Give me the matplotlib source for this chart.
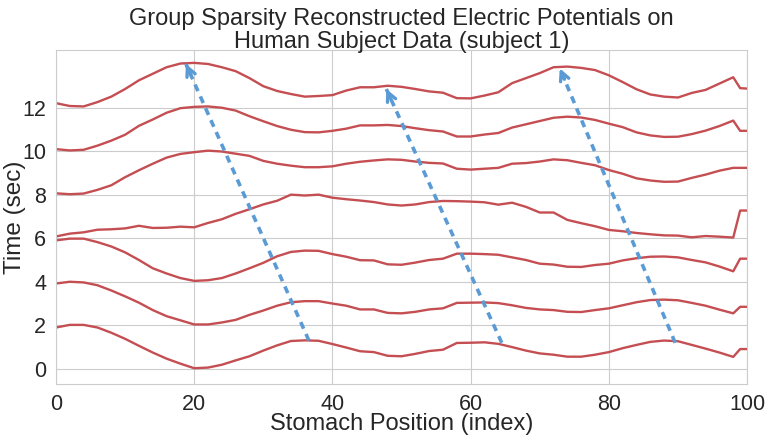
import numpy as np
import matplotlib
matplotlib.use('Agg')
import matplotlib.pyplot as plt
import seaborn as sns

# stomach position index at which the potentials were read
positions = list(range(0, 99, 2)) + [99, 100]

# reconstructed potentials, one trace per time step (already offset by 2*k)
trace_0 = [1.9, 2.02, 2.02, 1.9, 1.66, 1.38, 1.06, 0.75, 0.47, 0.24,
           0.03, 0.06, 0.19, 0.39, 0.58, 0.84, 1.08, 1.28, 1.31, 1.29,
           1.14, 0.98, 0.81, 0.77, 0.6, 0.58, 0.69, 0.82, 0.88, 1.19,
           1.2, 1.22, 1.15, 1.0, 0.84, 0.71, 0.65, 0.56, 0.56, 0.65,
           0.77, 0.95, 1.1, 1.24, 1.3, 1.27, 1.1, 0.93, 0.75, 0.55,
           0.91, 0.91]
trace_1 = [3.92, 4.0, 3.97, 3.84, 3.6, 3.33, 3.04, 2.7, 2.42, 2.23,
           2.04, 2.04, 2.13, 2.25, 2.48, 2.68, 2.9, 3.06, 3.11, 3.11,
           3.0, 2.9, 2.73, 2.73, 2.57, 2.55, 2.62, 2.73, 2.78, 3.03,
           3.04, 3.05, 3.02, 2.92, 2.8, 2.73, 2.7, 2.62, 2.61, 2.7,
           2.78, 2.92, 3.06, 3.16, 3.18, 3.15, 3.03, 2.9, 2.72, 2.55,
           2.85, 2.85]
trace_2 = [5.9, 5.98, 5.98, 5.82, 5.62, 5.35, 5.0, 4.62, 4.38, 4.17,
           4.04, 4.07, 4.17, 4.38, 4.62, 4.87, 5.17, 5.37, 5.43, 5.42,
           5.27, 5.15, 4.99, 4.98, 4.8, 4.78, 4.88, 5.0, 5.06, 5.29,
           5.29, 5.27, 5.24, 5.12, 5.0, 4.83, 4.79, 4.69, 4.68, 4.77,
           4.83, 4.98, 5.08, 5.15, 5.16, 5.12, 5.0, 4.89, 4.7, 4.48,
           5.06, 5.06]
trace_3 = [6.08, 6.21, 6.27, 6.39, 6.41, 6.45, 6.57, 6.47, 6.48, 6.53,
           6.5, 6.7, 6.87, 7.12, 7.33, 7.55, 7.72, 8.0, 7.96, 8.0,
           7.86, 7.79, 7.73, 7.66, 7.55, 7.5, 7.55, 7.66, 7.71, 7.7,
           7.68, 7.65, 7.54, 7.63, 7.44, 7.18, 7.18, 6.84, 6.69, 6.55,
           6.38, 6.32, 6.24, 6.18, 6.13, 6.12, 6.04, 6.1, 6.07, 6.03,
           7.27, 7.27]
trace_4 = [8.06, 8.02, 8.05, 8.22, 8.43, 8.8, 9.12, 9.42, 9.7, 9.87,
           9.95, 10.02, 9.98, 9.88, 9.78, 9.55, 9.42, 9.33, 9.26, 9.26,
           9.3, 9.42, 9.51, 9.57, 9.62, 9.6, 9.52, 9.46, 9.43, 9.19,
           9.15, 9.19, 9.23, 9.42, 9.45, 9.52, 9.62, 9.58, 9.46, 9.35,
           9.13, 8.96, 8.75, 8.65, 8.59, 8.6, 8.77, 8.92, 9.1, 9.23,
           9.23, 9.23]
trace_5 = [10.09, 10.03, 10.06, 10.25, 10.48, 10.75, 11.16, 11.45, 11.76, 11.97,
           12.03, 12.05, 11.99, 11.86, 11.6, 11.37, 11.15, 10.98, 10.87, 10.86,
           10.93, 11.03, 11.18, 11.18, 11.2, 11.15, 11.05, 10.96, 10.9, 10.67,
           10.67, 10.76, 10.83, 11.08, 11.23, 11.38, 11.53, 11.58, 11.54, 11.43,
           11.26, 11.1, 10.86, 10.72, 10.65, 10.66, 10.78, 10.94, 11.15, 11.4,
           10.93, 10.93]
trace_6 = [12.2, 12.07, 12.05, 12.25, 12.5, 12.85, 13.25, 13.55, 13.85, 14.02,
           14.05, 14.0, 13.85, 13.67, 13.35, 12.98, 12.76, 12.62, 12.5, 12.53,
           12.57, 12.78, 12.93, 12.93, 13.0, 12.95, 12.85, 12.74, 12.68, 12.43,
           12.42, 12.55, 12.7, 13.12, 13.35, 13.58, 13.85, 13.88, 13.82, 13.72,
           13.48, 13.17, 12.84, 12.6, 12.5, 12.46, 12.67, 12.81, 13.1, 13.39,
           12.89, 12.87]
traces = [trace_0, trace_1, trace_2, trace_3, trace_4, trace_5, trace_6]

# propagation arrows (tail -> head), drawn over the traces
arrow_tails = [(36.6, 1.3), (64.5, 1.2), (89.6, 1.2)]
arrow_heads = [(18.8, 14.0), (47.8, 12.85), (72.9, 13.8)]

sns.set_style('whitegrid')
plt.rcParams['font.family'] = ['Liberation Sans', 'DejaVu Sans']

red = '#c44e52'
blue = '#5a9bd5'
txt = '#262626'

fig = plt.figure(figsize=(7.67, 4.37), dpi=100)
ax = fig.add_axes([0.073, 0.121, 0.901, 0.765])

for tr in traces:
    ax.plot(positions, tr, color=red, lw=1.7)

for (x0, y0), (x1, y1) in zip(arrow_tails, arrow_heads):
    ax.plot([x0, x1], [y0, y1], color=blue, lw=2.6,
            linestyle=(0, (2.0, 1.6)))
    # small solid head at the tip
    dx, dy = x1 - x0, y1 - y0
    ax.annotate('', xy=(x1, y1), xytext=(x1 - 0.04*dx, y1 - 0.04*dy),
                arrowprops=dict(arrowstyle='->', color=blue, lw=2.4,
                                mutation_scale=16, shrinkA=0, shrinkB=0))

ax.set_xlim(0, 100)
ax.set_ylim(-0.7, 14.65)
ax.set_xticks(np.arange(0, 101, 20))
ax.set_yticks(np.arange(0, 13, 2))
ax.tick_params(labelsize=15.5, colors=txt, pad=3.5)
ax.set_xlabel('Stomach Position (index)', fontsize=17, color=txt, labelpad=-1)
ax.set_ylabel('Time (sec)', fontsize=17.5, color=txt)
ax.yaxis.set_label_coords(-0.043, 0.5)
ax.set_title('Group Sparsity Reconstructed Electric Potentials on\n'
             'Human Subject Data (subject 1)', fontsize=17, color=txt,
             linespacing=1.05, pad=1.5)

fig.savefig('out.png', dpi=100)
